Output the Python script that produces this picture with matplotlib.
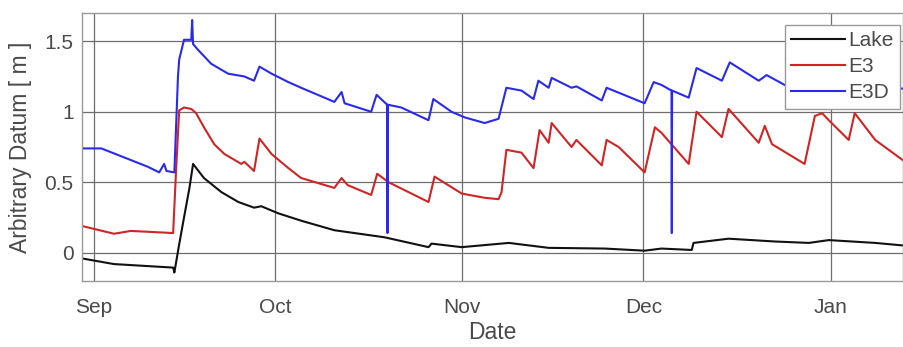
import pandas as pd
import numpy as np
import matplotlib
matplotlib.use('Agg')
import matplotlib.pyplot as plt
import matplotlib.dates as mdates

plt.rcParams['font.family'] = ['Liberation Sans', 'DejaVu Sans']

# -------------------- Data (days after 1 Sep, level in m) --------------------
start = pd.Timestamp('2017-09-01')

lake_day = [-2.0, 3.3, 13.1, 13.3, 14.1, 14.9, 15.8, 16.4, 18.2, 21.1, 23.9, 26.5,
            27.7, 30.5, 34.5, 39.8, 48.1, 55.4, 55.9, 60.9, 68.7, 75.3, 84.6,
            91.2, 94.0, 99.0, 99.3, 105.1, 112.8, 118.4, 121.7, 129.4, 134.5]
lake_lvl = [-0.04, -0.08, -0.105, -0.14, 0.06, 0.25, 0.46, 0.63, 0.53, 0.43, 0.36, 0.32,
            0.33, 0.28, 0.225, 0.16, 0.11, 0.04, 0.065, 0.04, 0.07, 0.035, 0.03,
            0.015, 0.03, 0.02, 0.07, 0.10, 0.08, 0.07, 0.09, 0.07, 0.05]

e3_day = [-2.0, 3.3, 6.1, 13.1, 13.6, 14.1, 14.9, 16.1, 16.9, 18.2, 19.9, 21.6,
          24.4, 24.9, 26.5, 27.4, 29.4, 32.2, 34.3, 39.8, 41.0, 42.0, 45.9, 46.9,
          48.8, 55.4, 56.4, 60.9, 64.7, 67.0, 67.5, 68.3, 70.8, 72.8, 73.8, 75.3,
          75.8, 79.1, 79.9, 84.1, 84.9, 86.9, 91.2, 92.9, 94.0, 98.5, 99.8, 104.0,
          105.1, 110.1, 111.1, 112.3, 117.7, 119.4, 120.6, 121.7, 125.0, 126.0,
          129.4, 134.5]
e3_lvl = [0.19, 0.135, 0.155, 0.14, 0.60, 1.01, 1.03, 1.02, 0.99, 0.89, 0.77, 0.70,
          0.63, 0.645, 0.58, 0.81, 0.70, 0.60, 0.53, 0.46, 0.53, 0.48, 0.41, 0.56,
          0.50, 0.36, 0.54, 0.42, 0.39, 0.38, 0.43, 0.73, 0.71, 0.60, 0.87, 0.78,
          0.92, 0.75, 0.80, 0.62, 0.80, 0.75, 0.57, 0.89, 0.85, 0.63, 1.00, 0.82,
          1.02, 0.78, 0.90, 0.77, 0.63, 0.97, 0.99, 0.94, 0.80, 0.99,
          0.80, 0.64]

e3d_day = [-2.0, 1.2, 8.9, 10.8, 11.6, 12.0, 13.3, 13.9, 14.1, 14.9, 16.1, 16.25,
           16.4, 17.2, 19.4, 22.2, 24.9, 26.5, 27.4, 29.4, 32.2, 34.3, 39.8, 41.0,
           41.5, 45.9, 46.8, 48.55, 48.6, 48.65, 50.9, 55.4, 56.2, 59.2, 61.4, 64.7,
           67.0, 68.3, 70.8, 72.8, 73.6, 75.3, 75.8, 79.1, 79.9, 84.1, 84.9, 91.2,
           92.7, 94.0, 95.65, 95.7, 95.75, 98.5, 99.8, 104.0, 105.3, 110.1, 111.4,
           114.4, 117.2, 119.7, 134.5]
e3d_lvl = [0.74, 0.74, 0.61, 0.57, 0.63, 0.58, 0.57, 1.25, 1.37, 1.51, 1.51, 1.65,
           1.48, 1.44, 1.34, 1.27, 1.25, 1.22, 1.32, 1.27, 1.21, 1.17, 1.07, 1.14,
           1.06, 1.00, 1.12, 1.05, 0.14, 1.05, 1.03, 0.94, 1.09, 1.00, 0.96, 0.92,
           0.95, 1.17, 1.15, 1.09, 1.22, 1.17, 1.24, 1.17, 1.18, 1.08, 1.17, 1.06,
           1.21, 1.19, 1.15, 0.14, 1.15, 1.10, 1.31, 1.22, 1.35, 1.22, 1.26,
           1.19, 1.14, 1.25, 1.16]

series = [('Lake', lake_day, lake_lvl, '#111111'),
          ('E3', e3_day, e3_lvl, '#d02525'),
          ('E3D', e3d_day, e3d_lvl, '#2a2aee')]

month_ticks = ['2017-09-01', '2017-10-01', '2017-11-01', '2017-12-01', '2018-01-01']
y_ticks = [0, 0.5, 1, 1.5]

# -------------------- Plot --------------------
txt = '#4a4a4a'
fig = plt.figure(figsize=(9.04, 3.47), dpi=100)
ax = fig.add_axes([0.0907, 0.1902, 0.9082, 0.7723])

for name, d, v, c in series:
    t = start + pd.to_timedelta(d, unit='D')
    ax.plot(t, v, color=c, lw=1.5, label=name)

ax.set_xlim(start + pd.Timedelta(days=-2.0), start + pd.Timedelta(days=134.0))
ax.set_ylim(-0.2, 1.7)
ax.set_xticks(pd.to_datetime(month_ticks))
ax.xaxis.set_major_formatter(mdates.DateFormatter('%b'))
ax.set_yticks(y_ticks)
ax.set_yticklabels(['0', '0.5', '1', '1.5'])

ax.grid(True, color='#6e6e6e', lw=0.9)
ax.set_axisbelow(True)
for s in ax.spines.values():
    s.set_color('#9a9a9a')
    s.set_linewidth(1.0)
ax.tick_params(axis='both', length=0, labelsize=15, labelcolor=txt)
ax.tick_params(axis='x', pad=12)
ax.tick_params(axis='y', pad=6)

ax.set_xlabel('Date', fontsize=16.5, color=txt, labelpad=3)
ax.set_ylabel('Arbitrary Datum [ m ]', fontsize=16.5, color=txt, labelpad=9)

leg = ax.legend(loc='upper right', bbox_to_anchor=(0.996, 0.955), borderaxespad=0,
                fontsize=15, frameon=True, fancybox=False, framealpha=1,
                handlelength=2.6, handletextpad=0.15, labelspacing=0.34,
                borderpad=0.3)
leg.get_frame().set_edgecolor('#9a9a9a')
leg.get_frame().set_linewidth(1.0)
for t in leg.get_texts():
    t.set_color(txt)

fig.savefig('out.png', dpi=100)
